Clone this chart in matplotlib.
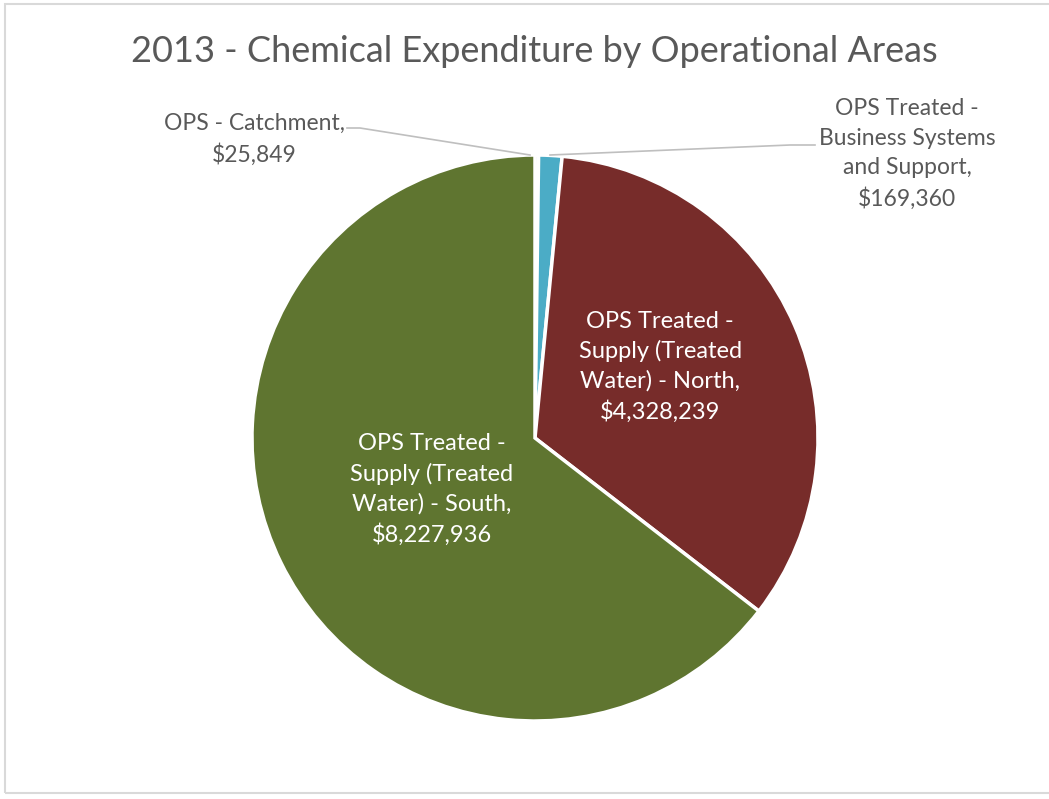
import matplotlib.pyplot as plt
from matplotlib.patches import Rectangle

# chemical spend per operational area, 2013
areas = ["OPS - Catchment",
         "OPS Treated -\nBusiness Systems\nand Support",
         "OPS Treated -\nSupply (Treated\nWater) - North",
         "OPS Treated -\nSupply (Treated\nWater) - South"]
spend = [25849, 169360, 4328239, 8227936]
colors = ["#1F497D", "#4BACC6", "#772C2A", "#5F7530"]

plt.rcParams['font.family'] = ['Lato', 'DejaVu Sans']
grey = "#595959"

W, H = 1049, 799
fig = plt.figure(figsize=(W / 100, H / 100), dpi=100)

# chart area border
fig.patches.append(Rectangle((5 / W, 6 / H), 1.2, 1 - 10 / H, transform=fig.transFigure,
                             fill=False, edgecolor="#D9D9D9", linewidth=1.5))

cx, cy, r = 535, 438, 283
ax = fig.add_axes([(cx - r) / W, (H - cy - r) / H, 2 * r / W, 2 * r / H])
wedges, _ = ax.pie(spend, colors=colors, startangle=90, counterclock=False,
                   wedgeprops=dict(edgecolor="white", linewidth=2.5))
ax.set_xlim(-1, 1)
ax.set_ylim(-1, 1)
ax.set_aspect("equal")
ax.axis("off")

def money(v):
    return "${:,}".format(v)

# labels inside the two big slices
ax.text(0.442, 0.251, areas[2] + ",\n" + money(spend[2]), color="white", fontsize=17,
        ha="center", va="center", linespacing=1.46)
ax.text(-0.364, -0.182, areas[3] + ",\n" + money(spend[3]), color="white", fontsize=17,
        ha="center", va="center", linespacing=1.46)

# labels outside for the two small slices, with leader lines
def to_data(px, py):
    return ((px - cx) / r, (cy - py) / r)

ax.plot(*zip(to_data(347, 128), to_data(360, 128), to_data(530, 155)),
        color="#BFBFBF", lw=1.2, clip_on=False)
ax.text(*to_data(254, 139), areas[0] + ",\n" + money(spend[0]), color=grey, fontsize=16.5,
        ha="center", va="center", linespacing=1.5)

ax.plot(*zip(to_data(550, 155), to_data(790, 145), to_data(815, 145)),
        color="#BFBFBF", lw=1.2, clip_on=False)
ax.text(*to_data(907, 154), areas[1] + ",\n" + money(spend[1]), color=grey, fontsize=16.5,
        ha="center", va="center", linespacing=1.5)

fig.text(534 / W, 1 - 52 / H, "2013 - Chemical Expenditure by Operational Areas",
         color=grey, fontsize=26, ha="center", va="center")

fig.savefig("out.png", dpi=100, facecolor="white")
